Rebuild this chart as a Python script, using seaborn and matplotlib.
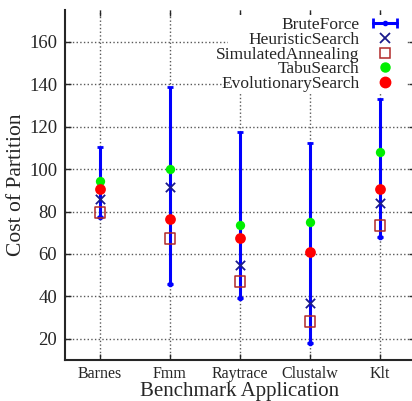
import matplotlib
matplotlib.use("Agg")
import matplotlib.pyplot as plt
from matplotlib.lines import Line2D
from matplotlib.patches import Rectangle
from matplotlib.legend_handler import HandlerLine2D, HandlerTuple
import seaborn as sns
import pandas as pd

# valores
benchmarks = ["Barnes", "Fmm", "Raytrace", "Clustalw", "Klt"]
brute_low = [77.5, 46.0, 39.0, 18.0, 68.0]
brute_high = [110.5, 138.5, 117.5, 112.5, 133.0]
heuristic = [85.7, 91.5, 54.7, 37.0, 83.8]
simulated = [79.4, 67.2, 46.9, 28.0, 73.4]
tabu = [94.6, 100.2, 73.7, 75.0, 108.0]
evolutionary = [90.4, 76.7, 67.6, 60.8, 90.7]

sns.set_style("ticks")
plt.rcParams["font.family"] = ["Liberation Serif", "DejaVu Serif"]

pos = list(range(1, len(benchmarks) + 1))
df = pd.DataFrame({
    "pos": pos * 4,
    "cost": heuristic + simulated + tabu + evolutionary,
    "alg": ["HeuristicSearch"] * 5 + ["SimulatedAnnealing"] * 5
           + ["TabuSearch"] * 5 + ["EvolutionarySearch"] * 5,
})

fig = plt.figure(figsize=(4.12, 4.01), dpi=100)
ax = fig.add_axes([65 / 412, 41 / 401, 350 / 412, 350 / 401])

# BruteForce: barra de erro com ponto no minimo
ax.errorbar(pos, brute_low,
            yerr=[[0] * 5, [h - l for h, l in zip(brute_high, brute_low)]],
            fmt="o", ms=3, color="blue", ecolor="blue", elinewidth=2.2,
            capsize=2.5, capthick=2, zorder=3)

estilos = {
    "HeuristicSearch": dict(marker="x", color="#1a1a8c", s=45, linewidth=1.3),
    "SimulatedAnnealing": dict(marker="s", facecolor="none", edgecolor="#b22a2a", s=60, linewidth=1.1),
    "TabuSearch": dict(marker="o", color="#00ee00", s=45, linewidth=0),
    "EvolutionarySearch": dict(marker="o", color="red", s=60, linewidth=0),
}
for nome, st in estilos.items():
    sub = df[df["alg"] == nome]
    sns.scatterplot(data=sub, x="pos", y="cost", ax=ax, zorder=4, legend=False, **st)

ax.set_xlim(0.5, 5.5)
ax.set_ylim(10, 175)
ax.set_xticks(pos)
ax.set_xticklabels(benchmarks, fontsize=11.5)
ax.set_yticks(range(20, 161, 20))
ax.tick_params(axis="y", labelsize=13.5, pad=5.5)
ax.tick_params(axis="x", pad=4.5)
ax.tick_params(direction="in", length=4, width=1, top=True, right=True, labeltop=False, labelright=False)
ax.grid(True, color="0.35", linestyle=":", linewidth=1)
ax.set_axisbelow(True)
for s in ["top", "right"]:
    ax.spines[s].set_visible(False)
for s in ["left", "bottom"]:
    ax.spines[s].set_linewidth(1.5)

ax.set_xlabel("Benchmark Application", fontsize=15, labelpad=-0.5)
ax.set_ylabel("Cost of Partition", fontsize=15.5, labelpad=2)

# caixa opaca da legenda (tapa o grid como no gnuplot)
ax.add_patch(Rectangle((0.466, 0.766), 0.508, 0.22, transform=ax.transAxes,
                       facecolor="white", edgecolor="none", zorder=1))

# legenda no estilo gnuplot
bf_line = Line2D([], [], color="blue", lw=2.2, marker="|", ms=7, mew=2)
bf_dot = Line2D([], [], color="blue", lw=0, marker="o", ms=3)
h_heur = Line2D([], [], color="#1a1a8c", lw=0, marker="x", ms=7, mew=1.3)
h_sim = Line2D([], [], lw=0, marker="s", ms=7, mfc="none", mec="#b22a2a", mew=1.1)
h_tabu = Line2D([], [], color="#00ee00", lw=0, marker="o", ms=6.5)
h_evo = Line2D([], [], color="red", lw=0, marker="o", ms=7.5)
ax.legend([(bf_line, bf_dot), h_heur, h_sim, h_tabu, h_evo],
          ["BruteForce", "HeuristicSearch", "SimulatedAnnealing", "TabuSearch", "EvolutionarySearch"],
          handler_map={bf_line: HandlerLine2D(numpoints=2), tuple: HandlerTuple(ndivide=1)},
          loc="upper right", bbox_to_anchor=(344 / 350, 1.0), borderaxespad=0.2,
          frameon=False, markerfirst=False, fontsize=12.5, handlelength=2.0,
          handletextpad=0.45, labelspacing=-0.08, borderpad=0.2)

fig.savefig("out.png", dpi=100)
